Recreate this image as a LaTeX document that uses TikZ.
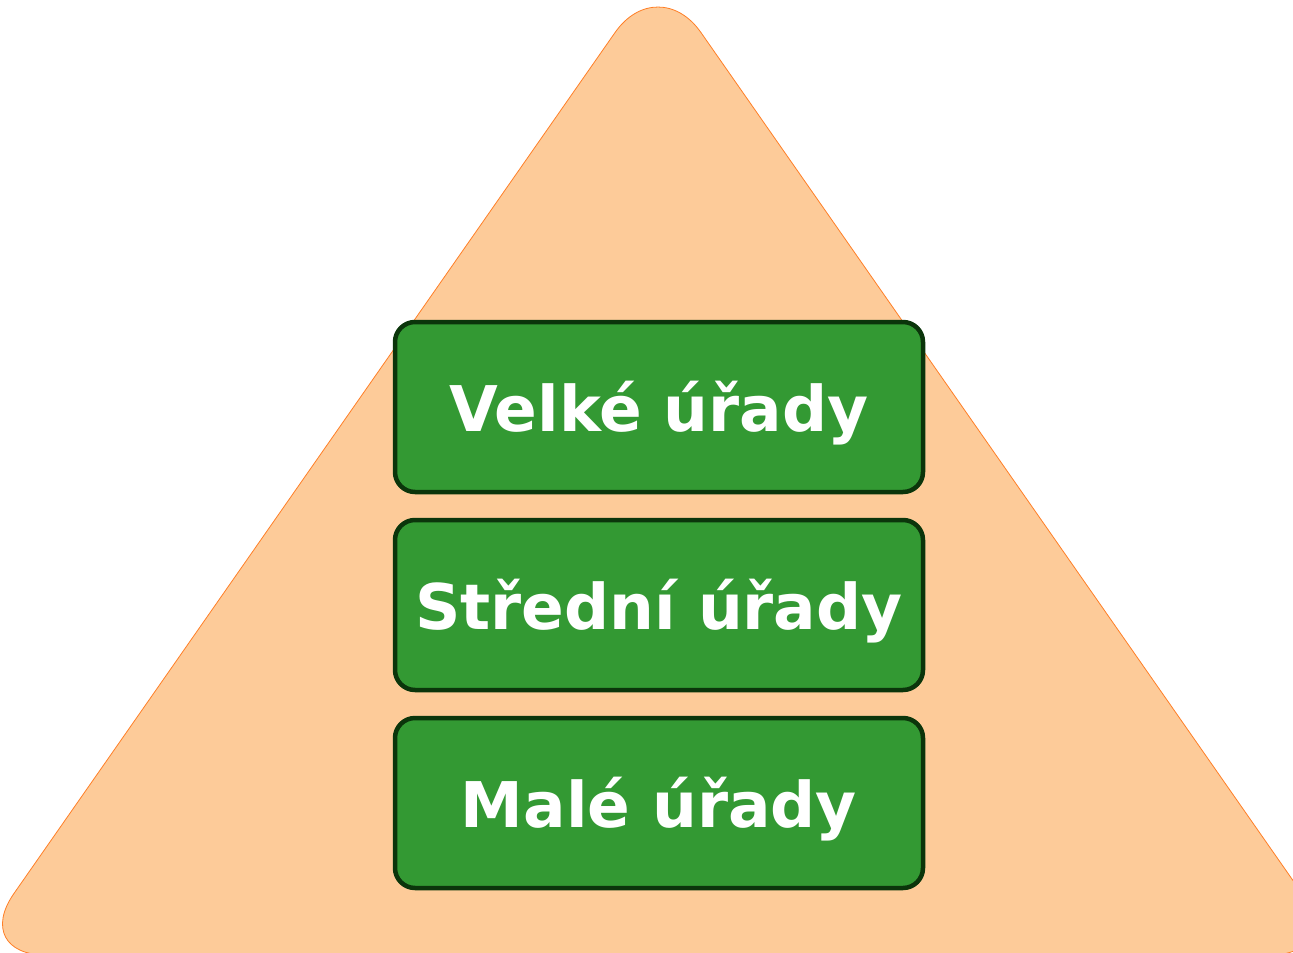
\documentclass[tikz,border=0pt]{standalone}
\usepackage{fontspec}
\setmainfont{DejaVu Sans}
\usetikzlibrary{positioning}
\definecolor{peach}{HTML}{FDCB99}
\definecolor{peachline}{HTML}{FF7F27}
\definecolor{boxgreen}{HTML}{339933}
\definecolor{boxline}{HTML}{0B350B}

\tikzset{
  level/.style={draw=boxline,line width=4.5pt,fill=boxgreen,rounded corners=20pt,
    minimum width=528pt,minimum height=170pt,inner sep=0pt,
    text height=48pt,text depth=0pt,
    text=white,font=\fontsize{63}{74}\selectfont\bfseries},
}

\begin{document}
\begin{tikzpicture}[x=1pt,y=-1pt,node distance=23.5pt]
  \useasboundingbox (0,0) rectangle (1293,953);
  \clip (0,0) rectangle (1293,953);
  % pyramid
  \draw[fill=peach,draw=peachline,line width=0.8pt,rounded corners=75pt]
    (658,-29) -- (1345,955) -- (-29,955) -- cycle;
  % levels
  \node[level] (velke) at (659,407) {Velké úřady};
  \node[level,below=of velke] (stredni) {Střední úřady};
  \node[level,below=of stredni] (male) {Malé úřady};
\end{tikzpicture}
\end{document}
